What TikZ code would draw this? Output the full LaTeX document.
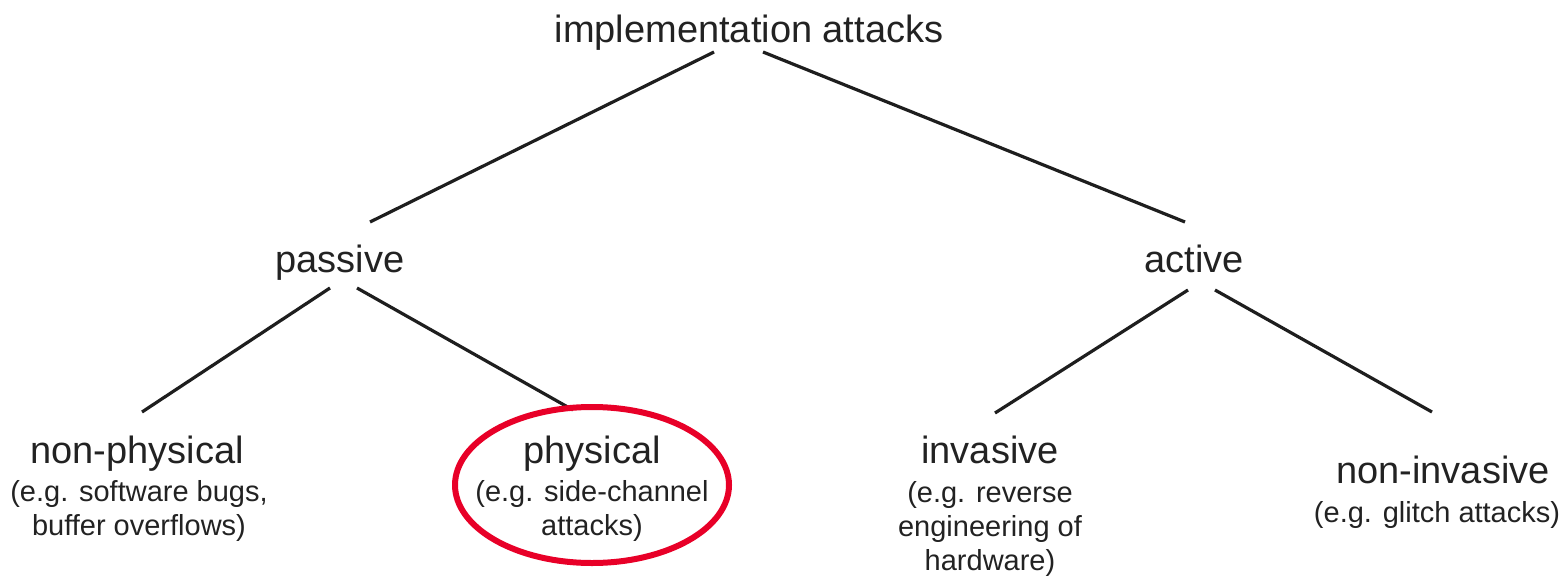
\documentclass[tikz,border=0pt]{standalone}
\usepackage{fontspec}
\setmainfont{Liberation Sans}
\definecolor{txt}{RGB}{34,34,34}
\definecolor{ln}{RGB}{30,30,30}
\definecolor{hl}{RGB}{232,0,40}
\begin{document}
\begin{tikzpicture}[x=1pt,y=-1pt,
  title/.style={anchor=base,inner sep=0pt,text=txt,font=\fontsize{38}{44}\selectfont},
  desc/.style={anchor=base,inner sep=0pt,text=txt,align=center,font=\fontsize{29}{34}\selectfont},
  edge/.style={draw=ln,line width=3.2pt}]
\useasboundingbox (0,0) rectangle (1562,578);
\node[title] (root) at (749,42) {implementation attacks};
\node[title] (pas) at (340,272) {passive};
\node[title] (act) at (1194,272) {active};
\node[title] (np) at (137,463) {non-physical};
\node[desc] (npd) at (139,535) {(e.g. software bugs,\\buffer overflows)};
\node[title] (ph) at (592,463) {physical};
\node[desc] (phd) at (592,535) {(e.g. side-channel\\attacks)};
\node[title] (inv) at (990,463) {invasive};
\node[desc] (invd) at (990,570) {(e.g. reverse\\engineering of\\hardware)};
\node[title] (ni) at (1443,483) {non-invasive};
\node[desc] (nid) at (1437,522) {(e.g. glitch attacks)};
\coordinate (rootL) at (714,52);
\coordinate (rootR) at (763,52);
\coordinate (pasT) at (370,222);
\coordinate (actT) at (1185,222);
\coordinate (pasL) at (330,288);
\coordinate (pasR) at (357,288);
\coordinate (actL) at (1188,290);
\coordinate (actR) at (1215,290);
\coordinate (npT) at (142,412);
\coordinate (phT) at (573,410);
\coordinate (invT) at (995,413);
\coordinate (niT) at (1432,412);
\draw[edge] (rootL) -- (pasT);
\draw[edge] (rootR) -- (actT);
\draw[edge] (pasL) -- (npT);
\draw[edge] (pasR) -- (phT);
\draw[edge] (actL) -- (invT);
\draw[edge] (actR) -- (niT);
\draw[hl,line width=6pt] (592,485) ellipse [x radius=137, y radius=78];
\end{tikzpicture}
\end{document}
